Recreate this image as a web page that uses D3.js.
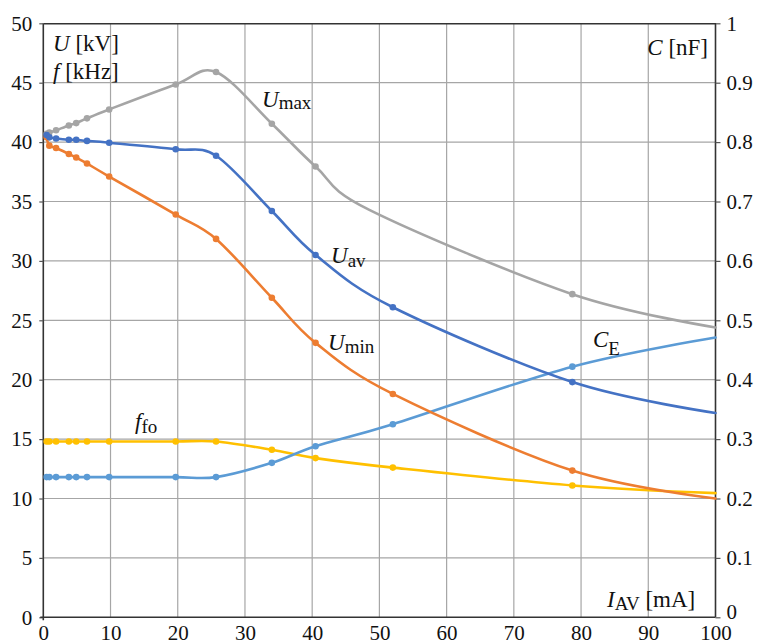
<!DOCTYPE html>
<html><head><meta charset="utf-8">
<script src="https://cdn.jsdelivr.net/npm/d3@7"></script>
<style>body{margin:0;background:#fff}svg{display:block}text{font-family:"Liberation Serif","Times New Roman",serif;fill:#111}</style>
</head><body>
<svg id="c" width="758" height="644"></svg>
<script>
// ---- data ----
const xTicks = [0,10,20,30,40,50,60,70,80,90,100];
const yLeftTicks = [0,5,10,15,20,25,30,35,40,45,50];
const yRightTicks = [0,0.1,0.2,0.3,0.4,0.5,0.6,0.7,0.8,0.9,1];
const yRightLabels = ["0","0.1","0.2","0.3","0.4","0.5","0.6","0.7","0.8","0.9","1"];

// measured currents (marked points)
const iMeas = [0.5, 0.9, 1.9, 3.8, 4.9, 6.5, 9.8, 19.7, 25.7, 34.0, 40.5, 52.0, 78.7];
const uAv   = [40.6, 40.4, 40.3, 40.2, 40.2, 40.1, 39.95, 39.4, 38.85, 34.2, 30.5, 26.1, 19.8];
const uMin  = [40.4, 39.7, 39.5, 39.0, 38.7, 38.2, 37.1, 33.9, 31.85, 26.9, 23.1, 18.8, 12.35];
const fFo   = [14.8, 14.8, 14.8, 14.8, 14.8, 14.8, 14.8, 14.8, 14.8, 14.1, 13.4, 12.6, 11.1];
const cE    = [0.236, 0.236, 0.236, 0.236, 0.236, 0.236, 0.236, 0.236, 0.236, 0.260, 0.288, 0.325, 0.422];
// U_max measured at these currents
const iMax  = [0.5, 0.9, 1.9, 3.8, 4.9, 6.5, 9.8, 19.7, 25.7, 34.0, 40.5, 78.7];
const uMax  = [40.7, 40.8, 41.0, 41.4, 41.6, 42.0, 42.75, 44.85, 45.9, 41.55, 37.95, 27.2];
// unmarked curve points
const uMaxExtraI = [48.5]; const uMaxExtra = [34.3];
const iEnd = 100;
const endVals = {uMax:24.4, uAv:17.2, uMin:10.0, fFo:10.45, cE:0.471};

// ---- layout ----
const L=43.3, R=715.5, T=23.3, B=617.3;
const svg = d3.select("#c");
const x = d3.scaleLinear().domain([0,100]).range([L,R]);
const yL = d3.scaleLinear().domain([0,50]).range([B,T]);
const yR = d3.scaleLinear().domain([0,1]).range([B,T]);

// grid
const g = svg.append("g");
g.selectAll("line.v").data(xTicks.slice(1,-1)).join("line")
  .attr("x1",d=>x(d)).attr("x2",d=>x(d)).attr("y1",T).attr("y2",B)
  .attr("stroke","#a6a6a6").attr("stroke-width",1.2);
g.selectAll("line.h").data(yLeftTicks.slice(1,-1)).join("line")
  .attr("x1",L).attr("x2",R).attr("y1",d=>yL(d)).attr("y2",d=>yL(d))
  .attr("stroke","#a6a6a6").attr("stroke-width",1.2);

// axes
const fs = 21;
const axL = svg.append("g").attr("transform",`translate(${L},0)`)
  .call(d3.axisLeft(yL).tickValues(yLeftTicks).tickSize(4).tickPadding(7).tickFormat(d3.format("d")));
const axR = svg.append("g").attr("transform",`translate(${R},0)`)
  .call(d3.axisRight(yR).tickValues(yRightTicks).tickSize(5).tickPadding(6).tickFormat((d,i)=>yRightLabels[i]));
const axB = svg.append("g").attr("transform",`translate(0,${B})`)
  .call(d3.axisBottom(x).tickValues(xTicks).tickSize(0).tickPadding(7).tickFormat(d3.format("d")));
const axT = svg.append("g").attr("transform",`translate(0,${T})`)
  .call(d3.axisTop(x).tickValues([]).tickSizeOuter(0));
[axL,axR,axB,axT].forEach(a=>{
  a.attr("font-family",null);
  a.selectAll("path.domain").attr("stroke","#333").attr("stroke-width",1.6);
  a.selectAll(".tick line").attr("stroke","#555").attr("stroke-width",1.2);
  a.selectAll("text").style("font-family",'"Liberation Serif",serif').style("font-size",fs+"px").attr("fill","#111");
});
axL.selectAll("path.domain").attr("d",`M0,${T}V${B+3}`);
axR.selectAll("path.domain").attr("d",`M0,${T}V${B}`);
axB.selectAll("path.domain").attr("d",`M${L-3},0H${R}`);
axB.selectAll("text").attr("dy","0.75em");
axR.selectAll(".tick text").filter(d=>d===0).attr("dy","0.08em");

// series
const curve = d3.curveCardinal.tension(0);
function series(xs, ys, extraX, extraY, endY, scale, color){
  let pts = xs.map((d,i)=>[d, ys[i]]);
  extraX.forEach((d,i)=>pts.push([d, extraY[i]]));
  pts.push([iEnd, endY]);
  pts.sort((a,b)=>a[0]-b[0]);
  svg.append("path").datum(pts)
    .attr("d", d3.line().x(d=>x(d[0])).y(d=>scale(d[1])).curve(curve))
    .attr("fill","none").attr("stroke",color).attr("stroke-width",2.6).attr("stroke-linecap","round");
  svg.append("g").selectAll("circle").data(xs.map((d,i)=>[d,ys[i]])).join("circle")
    .attr("cx",d=>x(d[0])).attr("cy",d=>scale(d[1])).attr("r",3.3).attr("fill",color);
}
series(iMax, uMax, uMaxExtraI, uMaxExtra, endVals.uMax, yL, "#a5a5a5");
series(iMeas, fFo, [], [], endVals.fFo, yL, "#ffc000");
series(iMeas, cE, [], [], endVals.cE, yR, "#5b9bd5");
series(iMeas, uMin, [], [], endVals.uMin, yL, "#ed7d31");
series(iMeas, uAv, [], [], endVals.uAv, yL, "#4472c4");

// labels
function label(px, py, parts, anchor){
  const t = svg.append("text").attr("x",px).attr("y",py).attr("text-anchor",anchor||"start")
    .style("font-size","23px");
  parts.forEach(p=>{
    const s = t.append("tspan").text(p.t);
    if(p.i) s.style("font-style","italic");
    if(p.sub) s.style("font-size","19px").attr("dy", p.dy||4);
    if(p.up) s.attr("dy", -p.up);
  });
  return t;
}
label(53, 51, [{t:"U",i:1},{t:" [kV]"}]);
label(53, 79, [{t:"f",i:1},{t:" [kHz]"}]);
label(708, 55, [{t:"C",i:1},{t:" [nF]"}], "end");
label(262, 107, [{t:"U",i:1},{t:"max",sub:1,dy:2}]);
label(331, 263, [{t:"U",i:1},{t:"av",sub:1,dy:4}]);
label(328, 350, [{t:"U",i:1},{t:"min",sub:1,dy:3}]);
label(593, 347, [{t:"C",i:1},{t:"E",sub:1,dy:8}]);
label(135, 429, [{t:"f",i:1},{t:"fo",sub:1,dy:4}]);
label(607, 607, [{t:"I",i:1},{t:"AV",sub:1,dy:3},{t:" [mA]",up:3}]);
</script>
</body></html>
